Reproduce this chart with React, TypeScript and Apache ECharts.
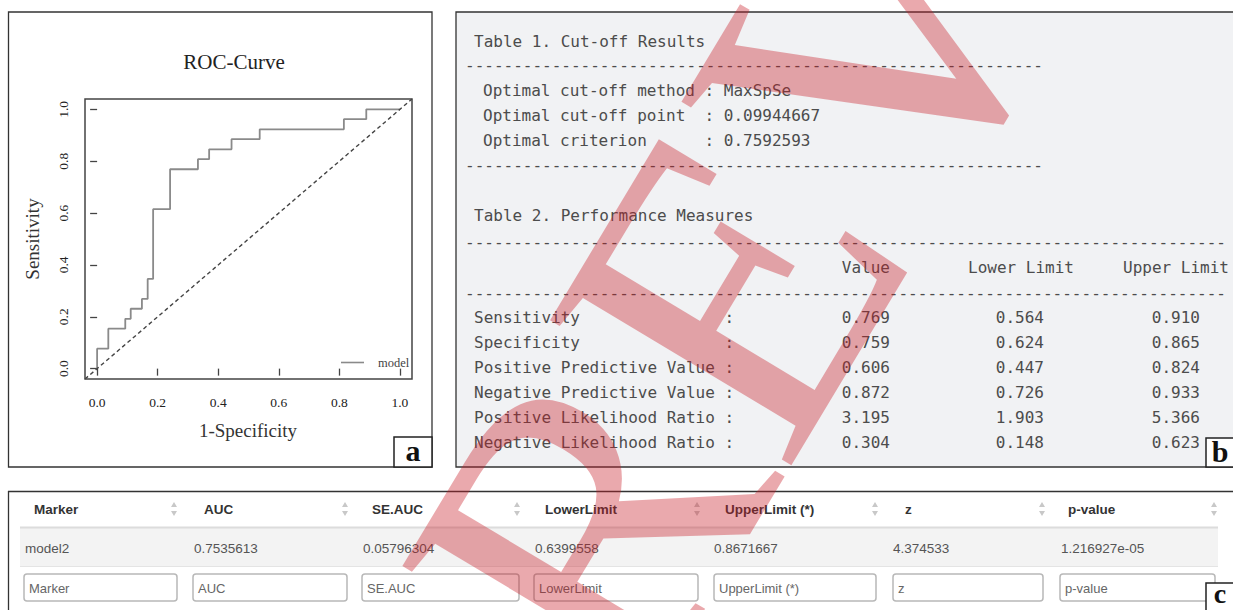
import React, { useEffect, useRef } from "react";
import * as echarts from "echarts";

// ROC curve points (1-Specificity, Sensitivity)
const fpr = [0, 0, 0.037, 0.037, 0.093, 0.093, 0.111, 0.111, 0.148, 0.148, 0.167, 0.167, 0.185, 0.185, 0.241, 0.241, 0.333, 0.333, 0.37, 0.37, 0.444, 0.444, 0.537, 0.537, 0.815, 0.815, 0.889, 0.889, 1.0];
const tpr = [0, 0.077, 0.077, 0.154, 0.154, 0.192, 0.192, 0.231, 0.231, 0.269, 0.269, 0.346, 0.346, 0.615, 0.615, 0.769, 0.769, 0.808, 0.808, 0.846, 0.846, 0.885, 0.885, 0.923, 0.923, 0.962, 0.962, 1.0, 1.0];
const axisTicks = [0, 0.2, 0.4, 0.6, 0.8, 1.0];

// Table 1
const cutoffLabels = ["Optimal cut-off method", "Optimal cut-off point", "Optimal criterion"];
const cutoffValues = ["MaxSpSe", "0.09944667", "0.7592593"];

// Table 2
const measureLabels = [
  "Sensitivity",
  "Specificity",
  "Positive Predictive Value",
  "Negative Predictive Value",
  "Positive Likelihood Ratio",
  "Negative Likelihood Ratio",
];
const measureValue = ["0.769", "0.759", "0.606", "0.872", "3.195", "0.304"];
const measureLower = ["0.564", "0.624", "0.447", "0.726", "1.903", "0.148"];
const measureUpper = ["0.910", "0.865", "0.824", "0.933", "5.366", "0.623"];
const measureHeaders = ["Value", "Lower Limit", "Upper Limit"];

// Table c
const aucHeaders = ["Marker", "AUC", "SE.AUC", "LowerLimit", "UpperLimit (*)", "z", "p-value"];
const aucRow = ["model2", "0.7535613", "0.05796304", "0.6399558", "0.8671667", "4.374533", "1.216927e-05"];

const SERIF = '"Liberation Serif", "Times New Roman", serif';
const MONO = '"DejaVu Sans Mono", monospace';
const SANS = '"Liberation Sans", Arial, sans-serif';

function txt(text: string, x: number, y: number, o: any = {}) {
  return {
    type: "text",
    x,
    y,
    z: o.z ?? 10,
    rotation: o.rotation ?? 0,
    style: {
      text,
      fill: o.fill ?? "#333",
      font: o.font,
      textAlign: o.align ?? "left",
      align: o.align ?? "left",
      textVerticalAlign: "middle",
      verticalAlign: "middle",
    },
  };
}

function rect(x: number, y: number, w: number, h: number, style: any, r = 0, z = 1) {
  return { type: "rect", z, shape: { x, y, width: w, height: h, r }, style };
}

function line(x1: number, y1: number, x2: number, y2: number, stroke: string, lw: number, z = 5) {
  return { type: "line", z, shape: { x1, y1, x2, y2 }, style: { stroke, lineWidth: lw } };
}

function buildGraphics() {
  const g: any[] = [];
  // Panel a frame
  g.push(rect(8.5, 12, 423.5, 455, { fill: "#fff", stroke: "#333", lineWidth: 1.3 }, 0, 0));
  g.push(txt("ROC-Curve", 234, 62, { font: `21px ${SERIF}`, align: "center", fill: "#222" }));
  g.push(txt("Sensitivity", 32, 239, { font: `19px ${SERIF}`, align: "center", rotation: Math.PI / 2, fill: "#333" }));
  g.push(txt("1-Specificity", 248, 430, { font: `19px ${SERIF}`, align: "center", fill: "#333" }));
  g.push(rect(394, 437, 38, 30, { fill: "#fff", stroke: "#222", lineWidth: 1.5 }, 0, 20));
  g.push({ ...txt("a", 413, 450, { font: `bold 30px ${SERIF}`, align: "center", fill: "#111" }), z: 21 });

  // Panel b frame
  g.push(rect(456, 12, 800, 455, { fill: "#f1f2f4", stroke: "#333", lineWidth: 1.3 }, 0, 0));
  const cw = 9.63;
  const mono = `16px ${MONO}`;
  const mc = "#4c4c4c";
  g.push(txt("Table 1. Cut-off Results", 474, 41, { font: mono, fill: mc }));
  g.push(txt("-".repeat(60), 465, 65, { font: mono, fill: mc }));
  cutoffLabels.forEach((l, i) => {
    const y = 90 + i * 25;
    g.push(txt(l, 483, y, { font: mono, fill: mc }));
    g.push(txt(": " + cutoffValues[i], 483 + 23 * cw, y, { font: mono, fill: mc }));
  });
  g.push(txt("-".repeat(60), 465, 165, { font: mono, fill: mc }));
  g.push(txt("Table 2. Performance Measures", 474, 215, { font: mono, fill: mc }));
  g.push(txt("-".repeat(79), 465, 242, { font: mono, fill: mc }));
  const hx = [890, 1074, 1229];
  measureHeaders.forEach((h, i) => g.push(txt(h, hx[i], 267, { font: mono, fill: mc, align: "right" })));
  g.push(txt("-".repeat(79), 465, 293, { font: mono, fill: mc }));
  const vx = [890, 1044, 1200];
  measureLabels.forEach((l, i) => {
    const y = 317 + i * 25.1;
    g.push(txt(l, 474, y, { font: mono, fill: mc }));
    g.push(txt(":", 474 + 26 * cw, y, { font: mono, fill: mc }));
    g.push(txt(measureValue[i], vx[0], y, { font: mono, fill: mc, align: "right" }));
    g.push(txt(measureLower[i], vx[1], y, { font: mono, fill: mc, align: "right" }));
    g.push(txt(measureUpper[i], vx[2], y, { font: mono, fill: mc, align: "right" }));
  });
  g.push(rect(1206, 438, 30, 29, { fill: "#fff", stroke: "#222", lineWidth: 1.5 }, 0, 20));
  g.push({ ...txt("b", 1220, 451, { font: `bold 30px ${SERIF}`, align: "center", fill: "#111" }), z: 21 });

  // Panel c
  g.push(line(8, 491.5, 1233, 491.5, "#333", 1.5, 3));
  g.push(line(8.5, 491, 8.5, 610, "#333", 1.3, 3));
  g.push(rect(20, 528, 1198, 38, { fill: "#f3f3f3" }, 0, 1));
  g.push(line(20, 527.5, 1218, 527.5, "#dcdcdc", 2, 2));
  g.push(line(20, 566.5, 1218, 566.5, "#e4e4e4", 1, 2));
  const hcx = [34, 204, 372, 545, 725, 905, 1068];
  const dcx = [25, 194, 363, 535, 714, 893, 1061];
  const iconX = [174, 345, 517, 697, 875, 1042, 1214];
  const boxes = [[24, 177], [193, 347], [362, 519], [534, 698], [714, 876], [893, 1043], [1060, 1215]];
  aucHeaders.forEach((h, i) => {
    g.push(txt(h, hcx[i], 509, { font: `bold 13.5px ${SANS}`, fill: "#333" }));
    const ix = iconX[i];
    g.push({ type: "polygon", z: 5, shape: { points: [[ix - 3, 507], [ix + 3, 507], [ix, 502]] }, style: { fill: "#c8c8c8" } });
    g.push({ type: "polygon", z: 5, shape: { points: [[ix - 3, 511], [ix + 3, 511], [ix, 516]] }, style: { fill: "#c8c8c8" } });
    g.push(txt(aucRow[i], dcx[i], 548, { font: `13.5px ${SANS}`, fill: "#555" }));
    const [bx1, bx2] = boxes[i];
    g.push(rect(bx1, 574, bx2 - bx1, 27, { fill: "#fff", stroke: "#b8b8b8", lineWidth: 1.5 }, 3, 3));
    g.push(txt(h, bx1 + 5, 588, { font: `13px ${SANS}`, fill: "#666" }));
  });
  g.push(rect(1206, 583, 30, 30, { fill: "#fff", stroke: "#222", lineWidth: 1.5 }, 0, 20));
  g.push({ ...txt("c", 1220, 593, { font: `bold 28px ${SERIF}`, align: "center", fill: "#111" }), z: 21 });

  // Watermark
  const phi = (59 * Math.PI) / 180;
  g.push({
    type: "text",
    x: 513,
    y: 647,
    z: 100,
    rotation: phi,
    silent: true,
    style: {
      text: "REVIEW",
      fill: "rgba(200,30,40,0.38)",
      font: `430px ${SERIF}`,
      textAlign: "left",
      align: "left",
      textVerticalAlign: "middle",
      verticalAlign: "middle",
    },
  });
  return g;
}

export default function App() {
  const ref = useRef<HTMLDivElement>(null);
  useEffect(() => {
    if (!ref.current) return;
    const chart = echarts.init(ref.current, null, { renderer: "svg" });
    const axisLabel = {
      customValues: axisTicks,
      formatter: (v: number) => v.toFixed(1),
      fontFamily: SERIF,
      fontSize: 13.5,
      color: "#222",
    };
    const axisTick = { show: true, customValues: axisTicks, length: 7, lineStyle: { color: "#444", width: 1.3 } };
    chart.setOption({
      animation: false,
      backgroundColor: "#fff",
      grid: { left: 85, top: 99, width: 327, height: 280, show: true, borderColor: "#444", borderWidth: 1.5, backgroundColor: "transparent", z: 6 },
      xAxis: {
        type: "value",
        min: -0.04,
        max: 1.04,
        axisLine: { show: false },
        splitLine: { show: false },
        axisTick,
        axisLabel: { ...axisLabel, margin: 16 },
      },
      yAxis: {
        type: "value",
        min: -0.04,
        max: 1.04,
        axisLine: { show: false },
        splitLine: { show: false },
        axisTick,
        axisLabel: { ...axisLabel, margin: 15, rotate: 90 },
      },
      legend: {
        data: ["model"],
        left: 336,
        top: 351,
        icon: "rect",
        itemWidth: 23,
        itemHeight: 1.6,
        textStyle: { fontFamily: SERIF, fontSize: 12.5, color: "#444", padding: [0, 0, 0, 9] },
      },
      series: [
        {
          name: "model",
          type: "line",
          color: "#8a8a8a",
          showSymbol: false,
          z: 7,
          lineStyle: { color: "#8a8a8a", width: 1.8 },
          data: fpr.map((x, i) => [x, tpr[i]]),
        },
        {
          name: "reference",
          type: "line",
          showSymbol: false,
          silent: true,
          z: 7,
          lineStyle: { color: "#444", width: 1.4, type: [4, 3] },
          data: [[-0.04, -0.04], [1.04, 1.04]],
        },
      ],
      graphic: buildGraphics(),
    });
    return () => chart.dispose();
  }, []);
  return <div ref={ref} style={{ position: "fixed", left: 0, top: 0, width: 1233, height: 610 }} />;
}
